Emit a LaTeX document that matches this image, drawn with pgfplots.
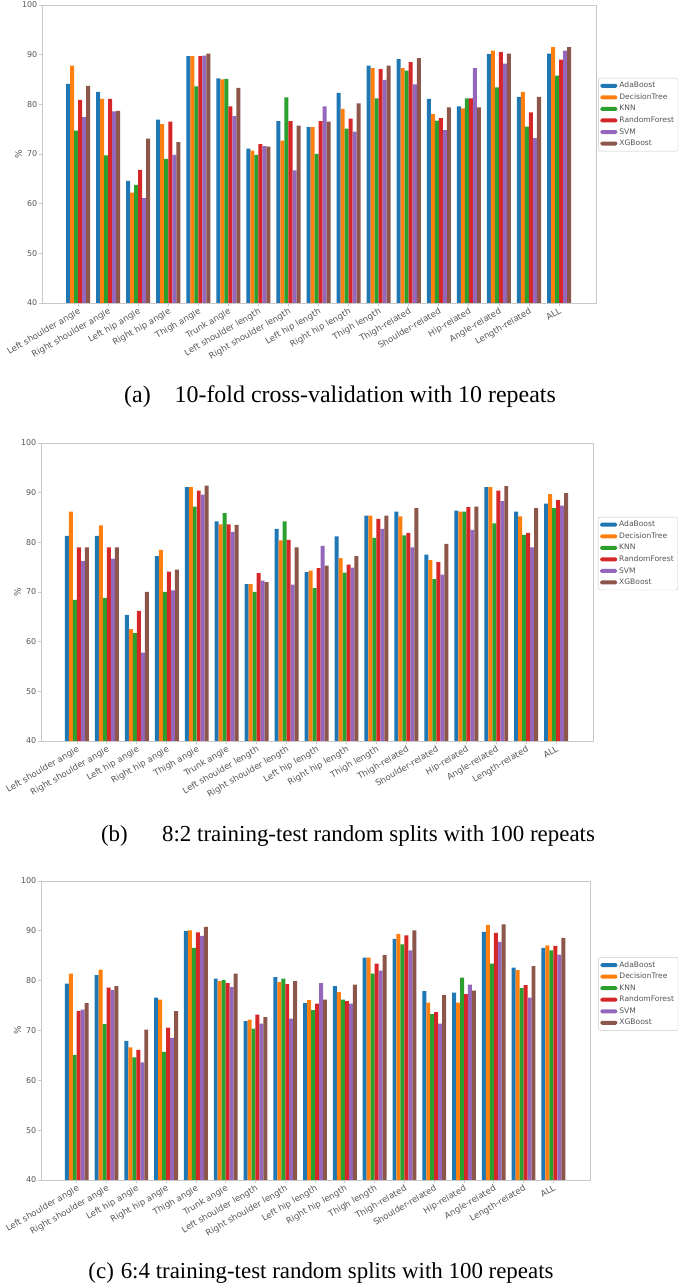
\documentclass[border=0pt]{standalone}
\usepackage{fontspec}
\setmainfont{Liberation Serif}
\newfontfamily\dejavu{DejaVu Sans}
\usepackage{pgfplots}
\usepackage{pgfplotstable}
\pgfplotsset{compat=1.18}
\definecolor{c1}{HTML}{1F77B4}
\definecolor{c2}{HTML}{FF7F0E}
\definecolor{c3}{HTML}{2CA02C}
\definecolor{c4}{HTML}{D62728}
\definecolor{c5}{HTML}{9467BD}
\definecolor{c6}{HTML}{8C564B}
\definecolor{axgray}{HTML}{C8C8C8}
\definecolor{txtgray}{HTML}{555555}

\pgfplotstableread{
x Ada DT KNN RF SVM XGB
0 84.1 87.8 74.7 80.9 77.4 83.7
1 82.5 81.1 69.7 81.1 78.6 78.7
2 64.6 62.2 63.8 66.8 61.1 73.1
3 76.9 76.0 69.0 76.5 69.8 72.4
4 89.7 89.7 83.6 89.7 89.8 90.2
5 85.2 85.0 85.1 79.6 77.6 83.3
6 71.1 70.7 69.8 72.0 71.6 71.5
7 76.6 72.7 81.4 76.6 66.7 75.7
8 75.4 75.4 70.0 76.6 79.6 76.5
9 82.3 79.1 75.1 77.1 74.5 80.2
10 87.8 87.3 81.2 87.1 84.9 87.8
11 89.1 87.3 86.8 88.5 84.0 89.3
12 81.1 78.0 76.7 77.2 74.8 79.4
13 79.6 79.2 81.2 81.2 87.3 79.4
14 90.1 90.8 83.4 90.5 88.2 90.2
15 81.5 82.5 75.5 78.4 73.2 81.5
16 90.2 91.5 85.8 89.0 90.8 91.5
}\tablea

\pgfplotstableread{
x Ada DT KNN RF SVM XGB
0 81.3 86.2 68.4 79.0 76.2 79.0
1 81.3 83.4 68.8 79.0 76.7 79.0
2 65.4 62.5 61.7 66.2 57.8 70.0
3 77.2 78.5 70.0 74.1 70.3 74.5
4 91.1 91.1 87.2 90.4 89.6 91.4
5 84.2 83.6 85.9 83.6 82.1 83.5
6 71.6 71.6 70.0 73.8 72.3 72.0
7 82.7 80.4 84.2 80.5 71.5 79.0
8 74.0 74.3 70.8 74.8 79.3 75.3
9 81.2 76.8 73.9 75.5 74.9 77.2
10 85.4 85.4 80.9 84.7 82.7 85.4
11 86.2 85.2 81.4 81.9 79.0 86.9
12 77.5 76.4 72.6 76.0 73.5 79.7
13 86.4 86.2 86.2 87.1 82.5 87.2
14 91.1 91.1 83.8 90.4 88.3 91.3
15 86.2 85.2 81.5 81.9 79.0 86.9
16 87.8 89.7 86.9 88.5 87.4 89.9
}\tableb

\pgfplotstableread{
x Ada DT KNN RF SVM XGB
0 79.4 81.4 65.1 73.9 74.2 75.5
1 81.1 82.2 71.3 78.6 78.1 78.9
2 67.9 66.6 64.6 66.1 63.6 70.2
3 76.6 76.2 65.7 70.6 68.5 73.9
4 90.0 90.1 86.6 89.7 89.0 90.8
5 80.4 79.9 80.1 79.5 78.7 81.4
6 71.9 72.2 70.4 73.2 71.4 72.7
7 80.7 79.7 80.4 79.3 72.4 79.9
8 75.5 76.1 74.1 75.4 79.5 76.2
9 78.9 77.7 76.2 75.9 75.4 79.2
10 84.6 84.6 81.4 83.4 82.0 85.1
11 88.4 89.4 87.3 89.1 86.1 90.1
12 77.9 75.6 73.3 73.7 71.4 77.1
13 77.6 75.6 80.6 77.3 79.2 78.0
14 89.8 91.2 83.4 89.6 87.8 91.3
15 82.6 82.1 78.5 79.1 76.6 82.9
16 86.6 87.1 86.1 87.0 85.2 88.6
}\tablec

\pgfplotsset{
  panel/.style={
    ybar,
    scale only axis,
    bar width=0.1333,
    xmin=-1.2, xmax=17.23,
    ymin=40, ymax=100,
    ytick={40,50,60,70,80,90,100},
    xtick={0,...,16},
    xticklabels={Left shoulder angle,Right shoulder angle,Left hip angle,Right hip angle,Thigh angle,Trunk angle,Left shoulder length,Right shoulder length,Left hip length,Right hip length,Thigh length,Thigh-related,Shoulder-related,Hip-related,Angle-related,Length-related,ALL},
    axis line style={axgray, line width=0.8bp},
    tick style={axgray, line width=0.8bp},
    tick align=outside,
    major tick length=3bp,
    xtick pos=bottom, ytick pos=left,
    /pgf/number format/assume math mode=true,
    ticklabel style={font=\dejavu\fontsize{8}{9}\selectfont, text=txtgray},
    x tick label style={rotate=30, anchor=north east, inner sep=1bp, font=\dejavu\fontsize{8.6}{9}\selectfont},
    y tick label style={inner sep=1.5bp},
    ylabel={\%},
    ylabel style={font=\dejavu\fontsize{9}{10}\selectfont, text=txtgray, yshift=-5bp},
    legend cell align=left,
    legend style={draw=axgray, rounded corners=1.5bp, font=\dejavu\fontsize{7.6}{8}\selectfont, text=txtgray, row sep=0.4bp, inner sep=2bp},
    legend image code/.code={\fill[##1,/tikz/.cd] (0bp,-2bp) rectangle (17bp,2bp);},
  },
}

\begin{document}
\begin{tikzpicture}[x=1bp,y=1bp]
\useasboundingbox (0,0) rectangle (685,1288);

% ---------- (a)
\begin{axis}[panel, at={(42bp,985bp)}, anchor=south west, width=554bp, height=298bp,
  legend style={at={(1.004,0.755)}, anchor=north west}]
\addplot[fill=c1, draw=none, bar shift=-0.3333] table[x=x,y=Ada] {\tablea};
\addplot[fill=c2, draw=none, bar shift=-0.2] table[x=x,y=DT] {\tablea};
\addplot[fill=c3, draw=none, bar shift=-0.0667] table[x=x,y=KNN] {\tablea};
\addplot[fill=c4, draw=none, bar shift=0.0667] table[x=x,y=RF] {\tablea};
\addplot[fill=c5, draw=none, bar shift=0.2] table[x=x,y=SVM] {\tablea};
\addplot[fill=c6, draw=none, bar shift=0.3333] table[x=x,y=XGB] {\tablea};
\legend{AdaBoost,DecisionTree,KNN,RandomForest,SVM,XGBoost}
\end{axis}
\node[font=\fontsize{24}{27}\selectfont] at (340,891) {(a)\hspace{1.0em}10-fold cross-validation with 10 repeats};

% ---------- (b)
\begin{axis}[panel, at={(41bp,547bp)}, anchor=south west, width=552bp, height=298bp,
  legend style={at={(1.009,0.752)}, anchor=north west}]
\addplot[fill=c1, draw=none, bar shift=-0.3333] table[x=x,y=Ada] {\tableb};
\addplot[fill=c2, draw=none, bar shift=-0.2] table[x=x,y=DT] {\tableb};
\addplot[fill=c3, draw=none, bar shift=-0.0667] table[x=x,y=KNN] {\tableb};
\addplot[fill=c4, draw=none, bar shift=0.0667] table[x=x,y=RF] {\tableb};
\addplot[fill=c5, draw=none, bar shift=0.2] table[x=x,y=SVM] {\tableb};
\addplot[fill=c6, draw=none, bar shift=0.3333] table[x=x,y=XGB] {\tableb};
\legend{AdaBoost,DecisionTree,KNN,RandomForest,SVM,XGBoost}
\end{axis}
\node[font=\fontsize{23}{26}\selectfont] at (348,452) {(b)\hspace{1.5em}8:2 training-test random splits with 100 repeats};

% ---------- (c)
\begin{axis}[panel, at={(41bp,108bp)}, anchor=south west, width=549bp, height=299bp,
  legend style={at={(1.015,0.745)}, anchor=north west}]
\addplot[fill=c1, draw=none, bar shift=-0.3333] table[x=x,y=Ada] {\tablec};
\addplot[fill=c2, draw=none, bar shift=-0.2] table[x=x,y=DT] {\tablec};
\addplot[fill=c3, draw=none, bar shift=-0.0667] table[x=x,y=KNN] {\tablec};
\addplot[fill=c4, draw=none, bar shift=0.0667] table[x=x,y=RF] {\tablec};
\addplot[fill=c5, draw=none, bar shift=0.2] table[x=x,y=SVM] {\tablec};
\addplot[fill=c6, draw=none, bar shift=0.3333] table[x=x,y=XGB] {\tablec};
\legend{AdaBoost,DecisionTree,KNN,RandomForest,SVM,XGBoost}
\end{axis}
\node[font=\fontsize{23}{26}\selectfont] at (321,15) {(c)\hspace{0.3em}6:4 training-test random splits with 100 repeats};
\end{tikzpicture}
\end{document}
